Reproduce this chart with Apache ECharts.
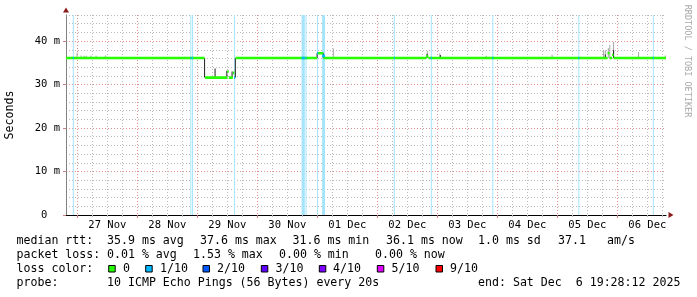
<!DOCTYPE html>
<html>
<head>
<meta charset="utf-8">
<script src="https://cdn.jsdelivr.net/npm/echarts@6/dist/echarts.min.js"></script>
<style>html,body{margin:0;padding:0;background:#fff}#c{width:697px;height:297px}</style>
</head>
<body>
<div id="c"></div>
<script>
// time axis: hours relative to 27 Nov 00:00 (window ends Sat Dec 6 19:28:12)
const tMin = -4.53;
const tMax = 235.47;
const dayLabels = ['27 Nov','28 Nov','29 Nov','30 Nov','01 Dec','02 Dec','03 Dec','04 Dec','05 Dec','06 Dec'];
const dayLabelHours = [12,36,60,84,108,132,156,180,204,228];
const yTicks = [0,10,20,30,40];
const yMax = 46;

// median rtt steps: [fromHour, toHour, ms]
const medianSteps = [
  [-4.53, 50.9, 36.1],
  [51.1, 60.0, 31.6],
  [60.0, 60.6, 33.0],
  [60.6, 62.2, 31.6],
  [62.2, 62.8, 32.7],
  [62.8, 63.1, 31.6],
  [63.3, 95.9, 36.1],
  [95.9, 98.4, 37.2],
  [98.4, 139.6, 36.1],
  [139.6, 140.4, 36.5],
  [140.4, 212.1, 36.1],
  [212.1, 212.9, 37.2],
  [212.9, 213.9, 36.1],
  [213.9, 214.5, 36.8],
  [214.5, 235.47, 36.1]
];

// smoke (ping spread): [hour, low ms, high ms]
const smokeLight = [
  [-0.1, 36.0, 37.4], [1.5, 36.0, 36.7], [2.7, 36.0, 36.6], [3.5, 36.0, 36.6], [5.5, 36.0, 36.7],
  [7.5, 36.0, 36.6], [11.2, 36.0, 36.7], [102.4, 36.1, 38.3], [140.0, 36.1, 37.7],
  [145.0, 36.1, 37.2], [163.6, 36.1, 36.6], [189.9, 36.1, 36.9], [210.5, 36.1, 37.9],
  [211.2, 36.1, 37.9], [212.4, 36.1, 38.4], [213.0, 36.1, 39.1], [214.5, 36.1, 39.8],
  [224.5, 36.1, 37.5], [235.2, 36.1, 36.7]
];
const smokeDark = [
  [50.9, 31.6, 36.1], [55.1, 31.6, 33.7], [59.8, 31.6, 33.2], [61.9, 31.6, 33.0],
  [63.2, 31.6, 36.1], [95.9, 36.1, 37.2], [98.4, 36.1, 37.2], [139.9, 36.1, 37.1],
  [145.2, 36.1, 36.8], [211.2, 36.1, 36.9], [214.5, 36.1, 37.9]
];

// packet loss 1/10 periods: [fromHour, toHour, median ms]
const lossBands = [
  [-1.8, -1.4, 36.1], [45.2, 45.6, 36.1], [45.9, 46.3, 36.1], [62.7, 63.1, 31.6],
  [89.7, 91.0, 36.1], [91.3, 91.6, 36.1], [95.9, 96.2, 37.2], [97.9, 99.1, 36.6],
  [126.6, 127.0, 36.1], [141.4, 141.8, 36.1], [166.0, 166.4, 36.1], [200.4, 200.8, 36.1],
  [230.2, 230.6, 36.1]
];

const legendLines = [
  {y: 241.3, items: [[16.5,'median rtt:'],[107,'35.9 ms avg'],[200,'37.6 ms max'],[292.5,'31.6 ms min'],[386,'36.1 ms now'],[478,'1.0 ms sd'],[558,'37.1'],[607,'am/s']]},
  {y: 255.3, items: [[16.5,'packet loss:'],[107,'0.01 % avg'],[193,'1.53 % max'],[279,'0.00 % min'],[375,'0.00 % now']]},
  {y: 269.3, items: [[16.5,'loss color:'],[123,'0'],[160,'1/10'],[217,'2/10'],[275.5,'3/10'],[333,'4/10'],[391.5,'5/10'],[450,'9/10']]},
  {y: 283.3, items: [[16.5,'probe:'],[107,'10 ICMP Echo Pings (56 Bytes) every 20s'],[478,'end: Sat Dec  6 19:28:12 2025']]}
];
const lossColors = [[108.7,'#26ff00'],[145.7,'#00b8ff'],[203,'#0059ff'],[261.3,'#5e00ff'],[319.3,'#7e00ff'],[377.3,'#dd00ff'],[436,'#ff0000']];

const MONO = 'DejaVu Sans Mono';
const minorX = []; for (let h = 0; h <= tMax; h += 6) minorX.push(h);
const majorX = []; for (let h = 0; h <= tMax; h += 24) majorX.push(h);
const minorY = []; for (let v = 0; v <= yMax; v += 2) minorY.push(v);

const medianData = [];
medianSteps.forEach(s => { medianData.push([s[0], s[2]], [s[1], s[2]], [s[1], '-']); });

function rectSeries(data, color, z) {
  return {
    type: 'custom', xAxisIndex: 1, yAxisIndex: 1, z: z, silent: true,
    data: data,
    renderItem: function (params, api) {
      const t = api.value(0);
      const p1 = api.coord([t - 0.2, api.value(2)]);
      const p2 = api.coord([t + 0.2, api.value(1)]);
      return {type: 'rect', shape: {x: p1[0], y: p1[1], width: p2[0] - p1[0], height: Math.max(1, p2[1] - p1[1])}, style: {fill: color}};
    }
  };
}

const graphics = [];
legendLines.forEach(l => l.items.forEach(it => graphics.push({
  type: 'text', x: it[0], y: l.y, silent: true,
  style: {text: it[1], font: '11.6px "' + MONO + '"', fill: '#000', verticalAlign: 'middle', align: 'left'}
})));
lossColors.forEach(c => graphics.push({
  type: 'rect', x: c[0], y: 265.5, silent: true,
  shape: {x: 0, y: 0, width: 6.5, height: 6.5},
  style: {fill: c[1], stroke: '#000', lineWidth: 1}
}));
graphics.push({
  type: 'text', x: 687.5, y: 61, rotation: -Math.PI / 2, silent: true,
  style: {text: 'RRDTOOL / TOBI OETIKER', font: '8.5px "' + MONO + '"', fill: '#a9a9a9', align: 'center', verticalAlign: 'middle'}
});

const chart = echarts.init(document.getElementById('c'), null, {renderer: 'canvas'});
chart.setOption({
  animation: false,
  backgroundColor: '#ffffff',
  grid: {left: 66, right: 31, top: 15, bottom: 82, containLabel: false, outerBoundsMode: 'none'},
  xAxis: [
    {type: 'value', position: 'bottom', min: tMin, max: tMax,
     axisLine: {show: false},
     axisTick: {show: true, customValues: minorX, length: 2, lineStyle: {color: '#b8b8b8'}},
     axisLabel: {show: false},
     splitLine: {show: true, lineStyle: {color: '#bababa', type: [1, 2], width: 1}}},
    {type: 'value', position: 'bottom', min: tMin, max: tMax,
     axisLine: {show: true, onZero: false, lineStyle: {color: '#000', width: 1}},
     axisTick: {show: true, customValues: majorX, length: 3, lineStyle: {color: '#d08080'}},
     axisLabel: {show: true, customValues: dayLabelHours, margin: 5,
       fontFamily: MONO, fontSize: 10.5, color: '#000',
       formatter: v => dayLabels[Math.round((v - 12) / 24)]},
     splitLine: {show: true, lineStyle: {color: '#e09090', type: [1, 2], width: 1}}},
    {type: 'value', position: 'bottom', min: tMin, max: tMax,
     axisLine: {show: true, onZero: false, symbol: ['none', 'triangle'], symbolSize: [6, 5], symbolOffset: [0, 5],
       lineStyle: {color: '#8b1a1a', width: 0}},
     axisTick: {show: false}, axisLabel: {show: false}, splitLine: {show: false}}
  ],
  yAxis: [
    {type: 'value', position: 'left', min: 0, max: yMax,
     axisLine: {show: false},
     axisTick: {show: false, customValues: minorY},
     axisLabel: {show: false},
     splitLine: {show: true, lineStyle: {color: '#bababa', type: [1, 2], width: 1}}},
    {type: 'value', position: 'left', min: 0, max: yMax,
     name: 'Seconds', nameLocation: 'middle', nameGap: 50, nameRotate: 90,
     nameTextStyle: {fontFamily: MONO, fontSize: 11.6, color: '#000'},
     axisLine: {show: true, onZero: false, lineStyle: {color: '#808080', width: 1}},
     axisTick: {show: true, customValues: yTicks, length: 3, lineStyle: {color: '#d08080'}},
     axisLabel: {show: true, customValues: yTicks, margin: 6, fontFamily: MONO, fontSize: 10.5, color: '#000',
       formatter: v => v === 0 ? '0  ' : v + ' m'},
     splitLine: {show: true, lineStyle: {color: '#e09090', type: [1, 2], width: 1}}},
    {type: 'value', position: 'left', min: 0, max: yMax,
     axisLine: {show: true, onZero: false, symbol: ['none', 'triangle'], symbolSize: [6, 5], symbolOffset: [0, 5],
       lineStyle: {color: '#8b1a1a', width: 0}},
     axisTick: {show: false}, axisLabel: {show: false}, splitLine: {show: false}}
  ],
  series: [
    {
      type: 'custom', xAxisIndex: 1, yAxisIndex: 1, z: 1, silent: true, data: lossBands,
      renderItem: function (params, api) {
        const p1 = api.coord([api.value(0), yMax]);
        const p2 = api.coord([api.value(1), 0]);
        return {type: 'rect', shape: {x: p1[0], y: p1[1], width: Math.max(1, p2[0] - p1[0]), height: p2[1] - p1[1]}, style: {fill: '#a6e4fb'}};
      }
    },
    rectSeries(smokeLight, '#a8a8a8', 2),
    rectSeries(smokeDark, '#1e1e1e', 3),
    {
      type: 'line', xAxisIndex: 1, yAxisIndex: 1, z: 4, silent: true,
      data: medianData, showSymbol: false, symbol: 'none', connectNulls: false,
      lineStyle: {color: '#26ff00', width: 2.6}
    },
    {
      type: 'custom', xAxisIndex: 1, yAxisIndex: 1, z: 5, silent: true, data: lossBands,
      renderItem: function (params, api) {
        const p1 = api.coord([api.value(0), api.value(2)]);
        const p2 = api.coord([api.value(1), api.value(2)]);
        return {type: 'rect', shape: {x: p1[0], y: p1[1] - 1.3, width: Math.max(1, p2[0] - p1[0]), height: 2.6}, style: {fill: '#00b8ff'}};
      }
    }
  ],
  graphic: graphics
});
</script>
</body>
</html>
